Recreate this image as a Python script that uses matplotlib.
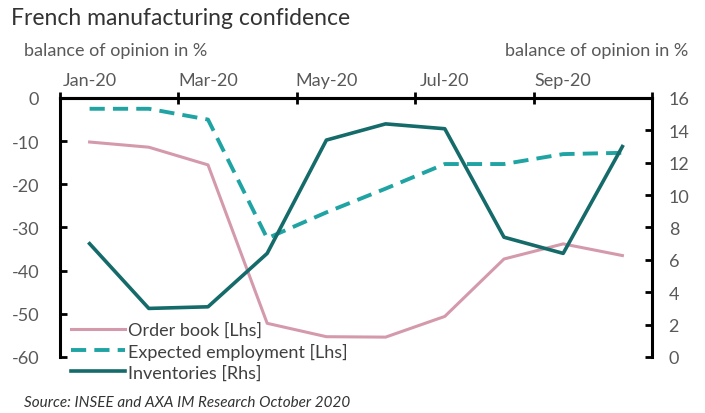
import matplotlib.pyplot as plt
import numpy as np

plt.rcParams['font.family'] = ['Lato', 'DejaVu Sans']
plt.rcParams['axes.unicode_minus'] = False

months = ['Jan-20', 'Feb-20', 'Mar-20', 'Apr-20', 'May-20', 'Jun-20',
          'Jul-20', 'Aug-20', 'Sep-20', 'Oct-20']
order_book = [-10.2, -11.4, -15.5, -52.2, -55.3, -55.4, -50.6, -37.3, -33.8, -36.5]
expected_employment = [-2.5, -2.5, -5.0, -32.5, -26.5, -21.0, -15.3, -15.3, -13.0, -12.7]
inventories = [7.0, 3.0, 3.1, 6.4, 13.4, 14.4, 14.1, 7.4, 6.4, 13.0]

grey = '#595959'
fs = 13
x = np.arange(len(months))

fig = plt.figure(figsize=(7.05, 4.14), dpi=100)
ax = fig.add_axes([0.0851, 0.1353, 0.8397, 0.6256])
ax2 = ax.twinx()

l1, = ax.plot(x, order_book, color='#d49aac', lw=2.2, label='Order book [Lhs]')
l2, = ax.plot(x, expected_employment, color='#1fa3a3', lw=2.8, ls=(0, (3.9, 2.1)),
              label='Expected employment [Lhs]')
l3, = ax2.plot(x, inventories, color='#156a6a', lw=2.6, label='Inventories [Rhs]')

ax.set_xlim(-0.5, len(months) - 0.5)
ax.set_ylim(-60, 0)
ax2.set_ylim(0, 16)
ax.set_yticks(np.arange(-60, 1, 10))
ax2.set_yticks(np.arange(0, 17, 2))

# x axis on top: ticks between categories, labels every other month
ax.xaxis.tick_top()
ax.set_xticks(np.arange(-0.5, len(months), 2))
ax.set_xticklabels([])
ax.set_xticks(x[::2], minor=True)
ax.set_xticklabels(months[::2], minor=True)
ax.tick_params(axis='x', which='major', direction='inout', length=9, width=2, top=True, bottom=False)
ax.tick_params(axis='x', which='minor', length=0, pad=7, labelsize=fs, labelcolor=grey,
               top=True, bottom=False, labeltop=True, labelbottom=False)
ax2.tick_params(axis='x', which='both', top=False, bottom=False)

ax.tick_params(axis='y', direction='in', length=5, width=2, pad=15, labelsize=fs, labelcolor=grey)
ax2.tick_params(axis='y', direction='in', length=5, width=2, pad=12, labelsize=fs, labelcolor=grey)

for a in (ax, ax2):
    a.spines['bottom'].set_visible(False)
    for s in ('top', 'left', 'right'):
        a.spines[s].set_linewidth(2.2)
ax2.spines['left'].set_visible(False)
ax.spines['right'].set_visible(False)

fig.text(0.016, 0.955, 'French manufacturing confidence', fontsize=16.5, color='#333333', va='center')
fig.text(0.034, 0.878, 'balance of opinion in %', fontsize=fs, color=grey, va='center')
fig.text(0.976, 0.878, 'balance of opinion in %', fontsize=fs, color=grey, va='center', ha='right')
fig.text(0.034, 0.027, 'Source: INSEE and AXA IM Research October 2020', fontsize=11,
         style='italic', color='#333333', va='center')

ax2.legend([l1, l2, l3], [l1.get_label(), l2.get_label(), l3.get_label()],
           loc='upper left', bbox_to_anchor=(0.088, 0.242), bbox_transform=fig.transFigure,
           frameon=False, fontsize=fs, handlelength=3.0, handletextpad=0.15,
           labelspacing=0.25, borderpad=0, labelcolor='#404040')

fig.savefig('out.png', dpi=100)
